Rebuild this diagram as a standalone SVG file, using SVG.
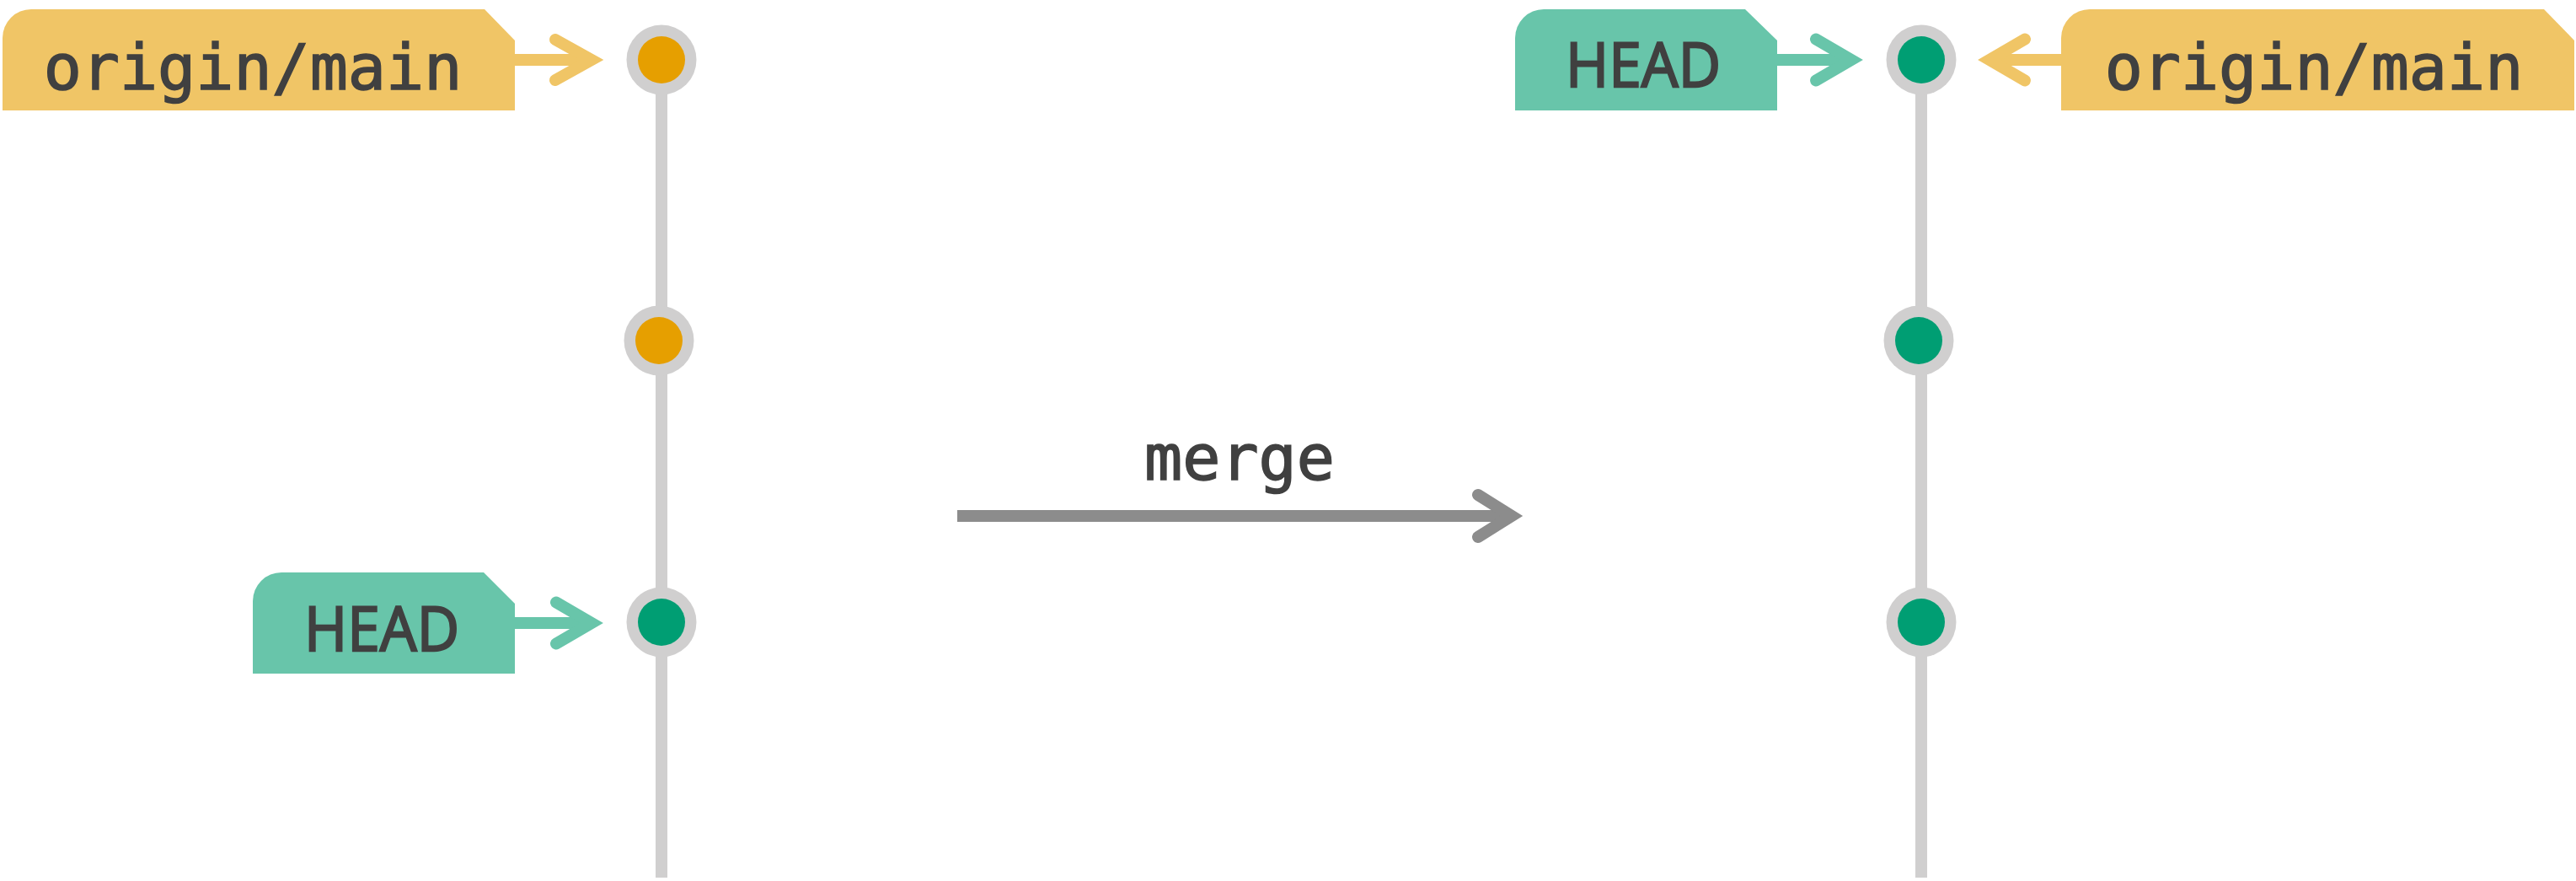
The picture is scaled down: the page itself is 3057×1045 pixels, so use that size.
<svg xmlns="http://www.w3.org/2000/svg" width="3057" height="1045" viewBox="0 0 3057 1045">
<style>
.tagO{fill:#f0c566}
.tagG{fill:#68c5aa}
.mono{font-family:"DejaVu Sans Mono","Liberation Mono",monospace;font-size:75px;fill:#404040;stroke:#404040;stroke-width:1.6}
.sans{font-family:"Open Sans","Noto Sans","Liberation Sans",sans-serif;font-size:74px;fill:#404040;stroke:#404040;stroke-width:2.4}
.ring{fill:#d0cfcf}
.cO{fill:#e69f00}
.cG{fill:#009e73}
.rail{stroke:#d0cfcf;stroke-width:14;fill:none}
.arrO{stroke:#f0c566;stroke-width:14;fill:none}
.arrG{stroke:#68c5aa;stroke-width:14;fill:none}
.arrM{stroke:#8c8c8c;stroke-width:14;fill:none}
.head{stroke-linecap:round;stroke-linejoin:miter;stroke-miterlimit:6}
</style>
<rect width="3057" height="1045" fill="#ffffff"/>
<g id="connectors">
<line class="rail" x1="785" y1="70" x2="785" y2="1041"/>
<line class="rail" x1="2280" y1="70" x2="2280" y2="1041"/>
<line class="arrO" x1="611" y1="71" x2="702" y2="71"/>
<path class="arrO head" d="M659,47 L702,71 L659,95"/>
<line class="arrG" x1="611" y1="739" x2="702" y2="739"/>
<path class="arrG head" d="M660,714.5 L702,739 L660,763.5"/>
<line class="arrG" x1="2109" y1="71" x2="2197" y2="71"/>
<path class="arrG head" d="M2155,46.5 L2197,71 L2155,95.5"/>
<line class="arrO" x1="2446" y1="71" x2="2361" y2="71"/>
<path class="arrO head" d="M2403,46.5 L2361,71 L2403,95.5"/>
<line class="arrM" x1="1136" y1="612" x2="1794" y2="612"/>
<path class="arrM head" d="M1754,587 L1794,612 L1754,637"/>
<text class="mono" x="1471" y="569" text-anchor="middle">merge</text>
</g>
<g id="tag-origin-main-left">
<path class="tagO" d="M3,131 L3,45 A34,34 0 0 1 37,11 L575,11 L611,48 L611,131 Z"/>
<text class="mono" x="300" y="106" text-anchor="middle">origin/main</text>
</g>
<g id="tag-head-left">
<path class="tagG" d="M300,799 L300,713 A34,34 0 0 1 334,679 L574,679 L611,716 L611,799 Z"/>
<text class="sans" x="453" y="772" text-anchor="middle" textLength="184" lengthAdjust="spacingAndGlyphs">HEAD</text>
</g>
<g id="tag-head-right">
<path class="tagG" d="M1798,131 L1798,45 A34,34 0 0 1 1832,11 L2071,11 L2109,48 L2109,131 Z"/>
<text class="sans" x="1950" y="103" text-anchor="middle" textLength="184" lengthAdjust="spacingAndGlyphs">HEAD</text>
</g>
<g id="tag-origin-main-right">
<path class="tagO" d="M2446,131 L2446,45 A34,34 0 0 1 2480,11 L3019,11 L3055,48 L3055,131 Z"/>
<text class="mono" x="2746" y="106" text-anchor="middle">origin/main</text>
</g>
<g id="commit-left-1"><circle class="ring" cx="785" cy="71" r="41.5"/><circle class="cO" cx="785" cy="71" r="28"/></g>
<g id="commit-left-2"><circle class="ring" cx="782" cy="404" r="41.5"/><circle class="cO" cx="782" cy="404" r="28"/></g>
<g id="commit-left-3"><circle class="ring" cx="785" cy="738" r="41.5"/><circle class="cG" cx="785" cy="738" r="28"/></g>
<g id="commit-right-1"><circle class="ring" cx="2280" cy="71" r="41.5"/><circle class="cG" cx="2280" cy="71" r="28"/></g>
<g id="commit-right-2"><circle class="ring" cx="2277" cy="404" r="41.5"/><circle class="cG" cx="2277" cy="404" r="28"/></g>
<g id="commit-right-3"><circle class="ring" cx="2280" cy="738" r="41.5"/><circle class="cG" cx="2280" cy="738" r="28"/></g>
</svg>
